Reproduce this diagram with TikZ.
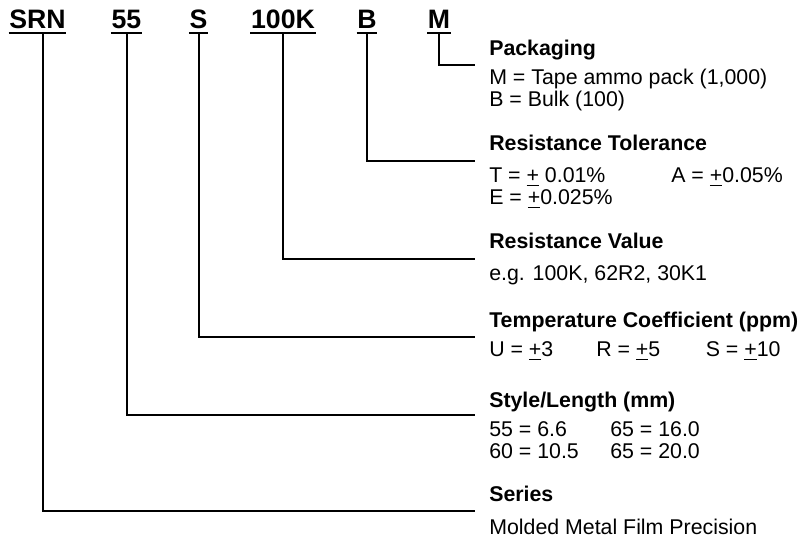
\documentclass[tikz,border=0pt]{standalone}
\usepackage{fontspec}
\setmainfont{Liberation Sans}
\newcommand\pmu{{\setbox0\hbox{+}\rlap{\rule[-2.6pt]{\wd0}{1.1pt}}\box0}}
\begin{document}
\begin{tikzpicture}[x=0.75pt,y=-0.75pt,
  lbl/.style={font=\fontsize{20}{24}\selectfont\bfseries, inner xsep=0.4pt, inner ysep=0pt, text depth=0pt, anchor=base},
  ttl/.style={font=\fontsize{16}{19}\selectfont\bfseries, inner sep=0pt, anchor=base west},
  txt/.style={font=\fontsize{16}{19}\selectfont, inner sep=0pt, anchor=base west},
  conn/.style={line width=1.5pt},
  ul/.style={line width=1.5pt}]
\useasboundingbox (0,0) rectangle (800,538);
% top code labels
\node[lbl] (srn) at (37.5,28.5) {SRN};
\node[lbl] (n55) at (126.5,28.5) {55};
\node[lbl] (s) at (198.5,28.5) {S};
\node[lbl] (k100) at (283,28.5) {100K};
\node[lbl] (b) at (367,28.5) {B};
\node[lbl] (m) at (439,28.5) {M};
\foreach \n in {srn,n55,s,k100,b,m}
  \draw[ul] ([yshift=-3.5pt]\n.south west) -- ([yshift=-3.5pt]\n.south east);
% line ends
\coordinate (eM) at (475,65);
\coordinate (eB) at (475,161.5);
\coordinate (eK) at (475,259);
\coordinate (eS) at (475,337);
\coordinate (e55) at (475,414.5);
\coordinate (eSRN) at (475,511);
% descriptions
\node[ttl] (tpack) at (489,56) {Packaging};
\node[txt] (pack1) at (489,85) {M = Tape ammo pack (1,000)};
\node[txt] (pack2) at (489,106.5) {B = Bulk (100)};
\node[ttl] (ttol) at (489,151) {Resistance Tolerance};
\node[txt] (tol1) at (489,183) {T = \pmu{} 0.01\%};
\node[txt] (tol2) at (671,183) {A = \pmu0.05\%};
\node[txt] (tol3) at (489,205) {E = \pmu0.025\%};
\node[ttl] (tval) at (489,249) {Resistance Value};
\node[txt] (val1) at (489,281) {e.g. 100K, 62R2, 30K1};
\node[ttl] (ttc) at (489,328) {Temperature Coefficient (ppm)};
\node[txt] (tc1) at (489,357) {U = \pmu3};
\node[txt] (tc2) at (596,357) {R = \pmu5};
\node[txt] (tc3) at (705.5,357) {S = \pmu10};
\node[ttl] (tsty) at (489,407) {Style/Length (mm)};
\node[txt] (sty1) at (489,436) {55 = 6.6};
\node[txt] (sty2) at (610,436) {65 = 16.0};
\node[txt] (sty3) at (489,458) {60 = 10.5};
\node[txt] (sty4) at (610,458) {65 = 20.0};
\node[ttl] (tser) at (489,501.5) {Series};
\node[txt] (ser1) at (489,534) {Molded Metal Film Precision};
% connectors
\draw[conn] ([yshift=-3.5pt]m.south) |- (eM);
\draw[conn] ([yshift=-3.5pt]b.south) |- (eB);
\draw[conn] ([yshift=-3.5pt]k100.south) |- (eK);
\draw[conn] ([yshift=-3.5pt]s.south) |- (eS);
\draw[conn] ([yshift=-3.5pt]n55.south) |- (e55);
\draw[conn] ([xshift=3.9pt,yshift=-3.5pt]srn.south) |- (eSRN);
\end{tikzpicture}
\end{document}
